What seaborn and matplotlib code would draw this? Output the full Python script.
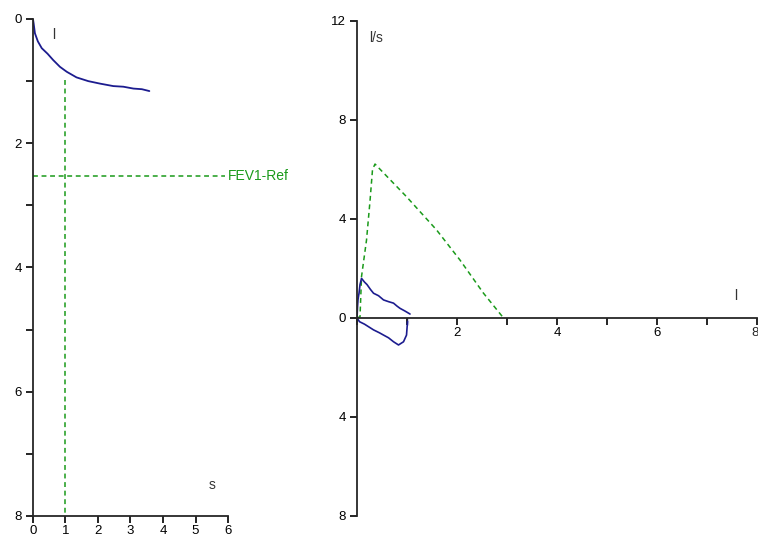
import matplotlib
matplotlib.use("Agg")
import matplotlib.pyplot as plt
import pandas as pd
import seaborn as sns
from matplotlib.ticker import FuncFormatter, MultipleLocator

# volume-time curve (s, l)
vt_time = [0.0, 0.02, 0.06, 0.15, 0.27, 0.45, 0.62, 0.83, 1.04, 1.34, 1.70, 2.06, 2.47, 2.78, 3.09, 3.35, 3.58]
vt_volume = [0.0, 0.07, 0.23, 0.36, 0.47, 0.56, 0.66, 0.77, 0.85, 0.94, 1.00, 1.04, 1.08, 1.09, 1.12, 1.13, 1.16]

# FEV1 reference marker
fev1_ref = 2.53
fev1_time = 1.0
fev1_top = 0.98

# flow-volume, expiration (l, l/s)
exp_volume = [0.0, 0.01, 0.02, 0.04, 0.06, 0.09, 0.15, 0.20, 0.27, 0.33, 0.43, 0.53, 0.63, 0.73, 0.80, 0.86, 0.96, 1.06]
exp_flow = [0.0, 0.45, 0.75, 1.00, 1.35, 1.60, 1.45, 1.35, 1.15, 1.00, 0.90, 0.73, 0.66, 0.60, 0.48, 0.39, 0.28, 0.16]

# flow-volume, inspiration
insp_volume = [0.0, 0.05, 0.15, 0.33, 0.45, 0.53, 0.63, 0.73, 0.83, 0.93, 0.99, 1.01, 1.01]
insp_flow = [0.0, -0.15, -0.25, -0.48, -0.60, -0.69, -0.80, -0.96, -1.09, -0.96, -0.69, -0.28, 0.0]

# predicted reference flow-volume curve
ref_volume = [0.0, 0.06, 0.09, 0.19, 0.26, 0.31, 0.36, 0.99, 1.59, 2.06, 2.53, 2.93]
ref_flow = [0.0, 0.05, 1.67, 3.15, 4.73, 6.00, 6.22, 4.90, 3.56, 2.34, 1.00, 0.0]

blue = "#1c1c8f"
green = "#1a9a1a"
dash = (0, (3.2, 2.4))

sns.set_style("ticks")
plt.rcParams["font.family"] = ["Liberation Sans", "DejaVu Sans"]
plt.rcParams["axes.linewidth"] = 1.3

fig = plt.figure(figsize=(7.58, 5.38), dpi=100)
ax1 = fig.add_axes([0.0435, 0.0409, 0.2573, 0.9238])
ax2 = fig.add_axes([0.471, 0.0409, 0.5277, 0.9201])

# left: volume-time
vt = pd.DataFrame({"t": vt_time, "v": vt_volume})
sns.lineplot(data=vt, x="t", y="v", sort=False, color=blue, lw=1.3, ax=ax1)
ax1.plot([0, 5.9], [fev1_ref, fev1_ref], color=green, lw=1.1, linestyle=dash)
ax1.plot([fev1_time, fev1_time], [fev1_top, 8], color=green, lw=1.1, linestyle=dash)
ax1.text(6.0, fev1_ref, "FEV1-Ref", color=green, fontsize=10, va="center", ha="left", clip_on=False)
ax1.set_xlim(0, 6)
ax1.set_ylim(8, 0)
ax1.xaxis.set_major_locator(MultipleLocator(1))
ax1.yaxis.set_major_locator(MultipleLocator(2))
ax1.yaxis.set_minor_locator(MultipleLocator(1))
ax1.text(0.6, 0.25, "l", fontsize=10, color="#333333", va="center")
ax1.text(5.4, 7.5, "s", fontsize=10, color="#333333", va="center")

# right: flow-volume
for vol, flow, col, ls in [
    (ref_volume, ref_flow, green, dash),
    (exp_volume, exp_flow, blue, "-"),
    (insp_volume, insp_flow, blue, "-"),
]:
    df = pd.DataFrame({"vol": vol, "flow": flow})
    sns.lineplot(data=df, x="vol", y="flow", sort=False, color=col, lw=1.2 if ls == "-" else 1.1,
                 linestyle=ls, ax=ax2)
ax2.set_xlim(0, 8)
ax2.set_ylim(-8, 12)
ax2.spines["bottom"].set_position(("data", 0))
ax2.xaxis.set_major_locator(MultipleLocator(2))
ax2.xaxis.set_minor_locator(MultipleLocator(1))
ax2.yaxis.set_major_locator(MultipleLocator(4))
# 0 belongs to the y axis, the last label is set by hand so it stays inside the figure
ax2.xaxis.set_major_formatter(FuncFormatter(lambda v, p: "" if v in (0, 8) else f"{v:g}"))
ax2.yaxis.set_major_formatter(FuncFormatter(lambda v, p: f"{abs(v):g}"))
ax2.annotate("8", xy=(8, 0), xytext=(1, -6.5), textcoords="offset points",
             ha="right", va="top", fontsize=9.5, annotation_clip=False)
ax2.text(0.25, 11.3, "l/s", fontsize=10, color="#333333", va="center")
ax2.text(7.55, 0.9, "l", fontsize=10, color="#333333", va="center")

for ax in (ax1, ax2):
    sns.despine(ax=ax)
    ax.set_xlabel("")
    ax.set_ylabel("")
    ax.tick_params(which="both", length=5, width=1.2, direction="out", labelsize=9.5, pad=3,
                   colors="black")
    ax.tick_params(axis="x", pad=1.5)
    ax.patch.set_alpha(0)

ax2.spines["bottom"].set_bounds(0, 8)

fig.savefig("out.png", dpi=100)
